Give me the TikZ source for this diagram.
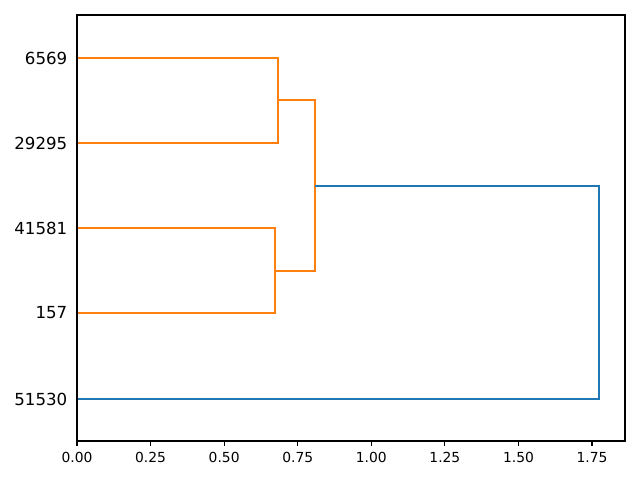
\documentclass[tikz,border=0pt]{standalone}
\usepackage{fontspec}
\setmainfont{DejaVu Sans}
\definecolor{mplorange}{HTML}{FF7F0E}
\definecolor{mplblue}{HTML}{1F77B4}
\begin{document}
\begin{tikzpicture}[x=0.01in,y=-0.01in,
  link/.style={line width=1.5pt},
  spine/.style={line width=0.8pt, line cap=rect},
  ylab/.style={anchor=east, inner sep=0pt, font=\fontsize{12}{14}\selectfont},
  xlab/.style={anchor=north, inner sep=0pt, font=\fontsize{10}{12}\selectfont}]
\useasboundingbox[fill=white] (0,0) rectangle (640,480);
% leaves
\coordinate (l1) at (77,58);
\coordinate (l2) at (77,143);
\coordinate (l3) at (77,228);
\coordinate (l4) at (77,313);
\coordinate (l5) at (77,399);
% merge points
\coordinate (a1) at (278,58);
\coordinate (a2) at (278,143);
\coordinate (b1) at (275,228);
\coordinate (b2) at (275,313);
\coordinate (c1) at (315,100);
\coordinate (c2) at (315,271);
\coordinate (d1) at (599,186);
\coordinate (d2) at (599,399);
% links
\draw[link, mplorange] (l1) -- (a1) -- (a2) -- (l2);
\draw[link, mplorange] (l3) -- (b1) -- (b2) -- (l4);
\draw[link, mplorange] (a1 |- c1) -- (c1) -- (c2) -- (b1 |- c2);
\draw[link, mplblue] (c1 |- d1) -- (d1) -- (d2) -- (l5);
% axes frame
\draw[spine] (77,15) rectangle (625,441);
% y labels
\node[ylab] (y1) at (67.5,58) {6569};
\node[ylab] (y2) at (67.5,143) {29295};
\node[ylab] (y3) at (67.5,228) {41581};
\node[ylab] (y4) at (67.5,313) {157};
\node[ylab] (y5) at (67.5,399) {51530};
% x ticks
\foreach \v/\t [count=\i] in {0/0.00,0.25/0.25,0.5/0.50,0.75/0.75,1/1.00,1.25/1.25,1.5/1.50,1.75/1.75} {
  \pgfmathsetmacro{\px}{77+294.3*\v}
  \draw[line width=0.8pt] (\px,441) -- (\px,445.9);
  \node[xlab] (x\i) at (\px,452) {\t};
}
\end{tikzpicture}
\end{document}
